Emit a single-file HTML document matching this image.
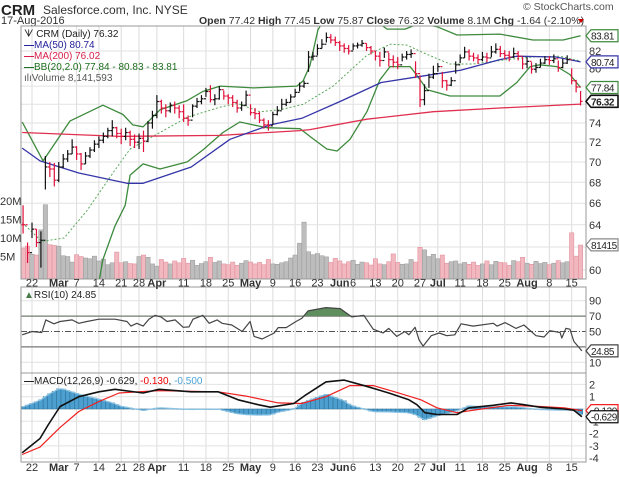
<!DOCTYPE html>
<html><head><meta charset="utf-8">
<style>
html,body{margin:0;padding:0;background:#fff;}
svg{display:block;font-family:"Liberation Sans",sans-serif;}
</style></head>
<body>
<svg id="chart" width="619" height="477" viewBox="0 0 619 477" xmlns="http://www.w3.org/2000/svg">
  <defs>
    <clipPath id="clipMain"><rect x="21" y="26" width="565" height="253"/></clipPath>
    <clipPath id="clipRsi"><rect x="21" y="287" width="565" height="86"/></clipPath>
    <clipPath id="clipMacd"><rect x="21" y="373" width="565" height="89"/></clipPath>
    <clipPath id="clipAbove70"><rect x="21" y="287" width="565" height="29.4"/></clipPath>
  </defs>
  <text x="1" y="15" font-size="15" font-weight="bold" fill="#222">CRM</text>
  <text x="43" y="14" font-size="12" fill="#333">Salesforce.com, Inc. NYSE</text>
  <text x="1" y="24" font-size="11" fill="#333">17-Aug-2016</text>
  <text x="523" y="10" font-size="10.5" fill="#555">© StockCharts.com</text>
  <text x="199" y="24" font-size="10.5" fill="#333"><tspan font-weight="bold">Open</tspan> 77.42 <tspan font-weight="bold">High</tspan> 77.45 <tspan font-weight="bold">Low</tspan> 75.87 <tspan font-weight="bold">Close</tspan> 76.32 <tspan font-weight="bold">Volume</tspan> 8.1M <tspan font-weight="bold">Chg</tspan> -1.64 (-2.10%)</text>
  <polygon points="578,19 584,19 581,23" fill="#c00"/>
  <g id="grid"></g>
  <g id="vol"></g>
  <g id="main" clip-path="url(#clipMain)"></g>
  <g id="rsi"></g>
  <g id="macd"></g>
  <g id="frames"></g>
  <g id="labels"></g>
  <g id="legend">
    <text x="24" y="37" font-size="10" fill="#222">ᗐ CRM (Daily) 76.32</text>
    <text x="24" y="48" font-size="10" fill="#22229a"><tspan font-weight="bold">—</tspan>MA(50) 80.74</text>
    <text x="24" y="59" font-size="10" fill="#d81e4a"><tspan font-weight="bold">—</tspan>MA(200) 76.02</text>
    <text x="24" y="70" font-size="10" fill="#1d6e1d"><tspan font-weight="bold">—</tspan>BB(20,2.0) 77.84 - 80.83 - 83.81</text>
    <text x="24" y="81" font-size="10" fill="#555">ılıVolume 8,141,593</text>
    <text x="24" y="298" font-size="10" fill="#222"><tspan fill="#4a7a4a">▲</tspan>RSI(10) 24.85</text>
    <text x="24" y="384" font-size="10" fill="#222"><tspan font-weight="bold">—</tspan>MACD(12,26,9) -0.629, <tspan fill="#e00">-0.130</tspan>, <tspan fill="#4aa3d6">-0.500</tspan></text>
  </g>
</svg>
<script>
// ---- data ----
const closes = [64.0,61.5,63.6,62.4,62.6,69.5,69.3,68.2,69.5,70.3,70.8,71.5,70.8,69.8,70.6,71.2,71.8,72.2,72.6,73.2,73.5,72.9,72.6,73.0,72.3,72.0,72.4,72.1,74.0,74.8,76.3,75.6,75.3,75.9,75.6,75.2,74.5,74.3,75.8,76.3,76.6,77.4,76.5,76.6,77.6,76.9,76.7,76.2,75.6,75.9,77.0,75.1,75.0,74.3,73.8,73.7,74.9,75.3,76.0,76.2,76.8,77.3,78.0,78.3,81.3,81.4,82.3,82.8,83.6,83.3,83.0,82.6,82.3,82.0,82.6,82.7,82.9,82.4,82.0,81.4,80.9,81.9,81.0,80.7,80.4,81.3,81.6,81.7,79.4,76.5,77.5,79.0,79.4,80.2,78.6,78.1,78.6,80.4,81.2,81.9,81.4,81.2,81.0,81.3,81.2,81.9,82.2,81.7,81.5,81.3,81.7,81.4,80.5,80.8,79.9,80.1,80.6,81.0,80.9,81.1,80.1,80.6,81.0,78.6,77.9,76.32];
const highs = [65.8,62.4,64.2,63.6,63.4,70.6,70.0,69.9,70.0,70.8,71.2,72.3,71.6,70.9,71.0,71.5,72.2,72.6,73.0,73.5,74.3,73.6,73.4,73.5,73.2,72.8,72.9,73.2,74.2,75.3,77.0,76.5,76.0,76.2,76.3,75.9,76.0,74.8,76.0,76.7,77.0,77.8,78.1,77.1,78.0,77.5,77.1,77.0,76.5,76.3,77.5,76.0,75.6,75.2,74.5,74.3,75.2,75.8,76.6,76.6,77.1,77.7,78.4,78.6,82.0,81.9,82.8,83.4,84.2,84.0,83.7,83.2,82.9,82.7,82.9,83.0,83.3,82.9,82.6,82.0,81.9,82.4,81.8,81.5,81.3,81.7,82.0,82.2,80.8,79.2,78.2,79.4,80.3,80.6,79.6,78.7,79.0,80.8,81.6,82.5,82.2,81.8,81.6,81.9,81.8,82.6,82.9,82.6,82.1,82.0,82.4,82.0,81.3,81.3,80.7,80.6,81.1,81.4,81.4,81.6,80.9,81.1,81.5,80.0,78.7,77.45];
const lows = [63.2,60.6,62.8,62.0,60.2,67.3,68.5,67.6,68.0,69.4,70.0,70.8,70.2,69.2,69.8,70.4,71.0,71.4,71.9,72.4,72.6,72.4,71.8,72.2,71.6,71.4,71.3,71.0,72.0,73.4,74.5,75.0,74.6,75.1,75.0,74.5,74.1,73.7,74.6,75.6,76.0,76.8,76.2,75.9,76.5,76.5,76.0,75.7,75.1,75.3,75.8,74.8,74.4,74.0,73.4,73.2,73.8,74.8,75.4,75.8,76.2,76.8,77.4,77.8,79.6,80.9,81.5,82.3,83.0,82.9,82.6,82.0,81.8,81.6,82.1,82.3,82.5,82.0,81.6,80.9,80.2,81.2,80.2,80.1,79.9,80.8,81.0,81.2,78.9,75.7,75.9,77.8,78.8,79.6,77.8,77.5,78.0,79.4,80.6,81.2,80.9,80.8,80.5,80.8,80.7,81.3,81.7,81.3,81.0,80.8,81.2,80.9,79.9,80.0,79.4,79.5,80.1,80.5,80.4,80.6,79.6,80.0,80.5,78.2,77.3,75.87];
const volumesM = [7.3,7.8,5.6,5.4,12.2,19.0,8.2,8.0,7.8,5.2,5.0,3.5,5.5,5.0,4.6,4.4,5.1,3.8,4.3,2.8,3.3,6.2,3.3,3.6,3.1,3.0,5.0,5.4,4.8,3.0,2.4,
 4.2,3.5,3.0,3.8,3.3,4.5,3.2,4.0,2.6,3.1,3.6,4.8,3.4,3.8,3.0,2.8,3.5,2.6,3.2,3.9,
 3.5,3.0,3.4,2.8,4.2,3.0,2.9,3.3,3.6,4.6,5.4,8.6,14.3,6.3,5.5,5.8,5.2,4.9,3.4,4.5,
 3.8,3.0,3.6,4.0,2.9,3.5,3.3,2.7,4.4,3.0,2.8,3.6,5.7,3.4,2.9,3.0,4.2,3.5,7.5,6.8,
 5.0,5.6,4.4,5.4,3.2,3.6,3.8,3.0,3.4,2.9,3.5,2.6,3.0,3.8,2.8,3.7,3.4,3.3,2.6,3.9,
 3.6,4.8,3.2,2.9,3.7,3.1,3.4,2.8,3.2,3.9,3.3,3.6,11.4,5.1,8.1];
const firstIdx = -2; // first bar = Feb 18 (index 0 = Feb 22)

const ma50Idx = [-2.2,1.8,10.5,21.3,24.9,35.7,44.4,53.4,60.5,69.5,78.3,87.2,96.2,104.9,108.7,117.5,123];
const ma50Val = [71.4,70.1,68.9,67.9,67.9,69.5,72.3,73.8,74.5,76.4,78.4,79.1,79.8,81.0,81.4,81.3,80.74];
const ma200Idx = [-2.2,19.7,42.2,60.1,62.3,75.1,90.0,104.9,123];
const ma200Val = [73.0,72.6,72.7,73.2,73.3,74.4,75.2,75.6,76.02];
const bbUpIdx = [-2.2,2.5,8.5,15.9,20.4,22.6,24.9,28.7,34.8,38.3,42.2,49.6,59.4,60.8,62.3,64.1,66.8,70.0,74.9,79.6,83.6,87.0,90.8,95.3,104.9,112.3,119.1,123];
const bbUpVal = [74.1,70.1,74.2,75.9,74.9,73.8,73.6,75.4,76.4,77.4,78.0,77.8,78.0,78.6,80.3,84.5,87.0,88.0,86.5,84.6,84.6,85.3,84.9,83.9,84.0,83.3,83.3,83.81];
const bbMidIdx = [-2.2,2.2,7.2,12.3,18.6,22.0,27.1,34.8,42.2,46.0,51.1,55.6,60.8,67.5,75.1,80.3,84.1,87.7,93.7,98.9,106.5,112.3,118.4,123];
const bbMidVal = [64.2,62.5,62.8,65.3,69.2,71.3,72.6,74.6,75.7,76.1,75.2,75.4,76.0,78.0,81.5,82.8,82.7,81.8,80.5,80.5,81.0,81.3,81.4,80.83];
const bbLoIdx = [-2.2,10.5,15.0,15.9,18.6,20.9,22.0,24.9,28.7,34.8,38.3,42.8,46.6,49.6,52.7,60.1,62.3,66.1,68.4,71.3,75.1,78.0,80.3,84.8,86.3,88.6,93.7,104.9,108.7,111.7,113.9,117.7,120.6,123];
const bbLoVal = [55.0,55.0,59.0,60.9,63.9,65.8,68.7,69.8,69.3,70.0,71.2,73.0,74.1,73.8,73.5,73.4,72.6,71.3,71.1,72.3,75.2,78.7,80.2,80.2,79.2,77.6,76.9,76.9,78.4,80.2,80.4,80.2,79.3,77.84];

const rsiIdx = [-2.2,0,2.2,3.1,4.9,6.3,9,10.5,12.3,15,18.6,21.3,22.2,23.5,24.9,26.2,27.6,28.9,30.3,32.1,33.9,35.2,36.1,38.3,39.7,41.5,42.6,44.8,47.1,48.9,49.8,51.6,54.3,55.2,57,59.2,60.5,61.9,65.9,69.1,71.7,74.4,76.5,78.7,80,81.8,83.6,84.5,85.9,86.8,87.7,89.5,91.3,93,94.8,96.2,98.9,103.4,104.3,106.1,108.5,110.3,113,114.8,116.1,118.4,118.8,119.7,120.6,121.5,123.3];
const rsiVal = [45.7,50,48.7,65,60,63,65,60.6,63,66,66,63,57,60.6,57,66,71,69,63,65,55.5,56,66,71,60.6,65,60.6,58.5,50,63,43.6,40.2,48,55,55,63,67,76.8,81,79.8,69,71,53,48,54,43.6,50,45.7,55.5,39,31,44.5,48,44.5,45.7,60,57,60.6,57,61.5,54,58.5,44.5,42.8,51,48.7,41.5,54,53,37,24.85];

const macdIdx = [-2.2,1.8,3.6,6.3,10.5,15,18.6,24.9,28.5,32.1,35.7,41.7,46.2,50.7,53.4,58.7,61.4,65.9,70,74.9,80,84.5,86.3,88.1,90.8,95.3,98,103.4,107.4,110.3,113.9,119.3,121.5,123.3];
const macdVal = [-3.55,-2.4,-1.3,0.2,1.0,1.4,1.6,1.3,1.6,1.5,1.4,1.4,0.75,0.35,0.15,0.45,1.15,2.2,2.35,1.85,1.3,0.75,0.35,-0.3,-0.45,-0.45,0.1,0.3,0.5,0.35,0.15,0,-0.1,-0.629];
const sigIdx = [-2.2,1.8,6.3,10.5,15,19.5,28.5,41.7,48,55.2,60.5,65.9,71.3,76.5,81.8,87.2,90.8,95.3,99.8,107,113.9,119.3,123.3];
const sigVal = [-3.7,-3.1,-1.5,-0.2,0.6,1.3,1.5,1.4,1.05,0.5,0.45,1.0,1.9,1.9,1.35,0.75,0.1,-0.3,-0.05,0.3,0.2,0.1,-0.13];

const tickIdx = [0,6,10,15,20,24,28,34,39,44,49,54,59,64,69,72,77,82,87,91,96,101,106,111,116,121];
const tickLabels = ["22","Mar","7","14","21","28","Apr","11","18","25","May","9","16","23","Jun","6","13","20","27","Jul","11","18","25","Aug","8","15"];
const priceTicks = [60,62,64,66,68,70,72,74,76,78,80,82];
const priceTickLabels = ["60","62","64","66","68","70","72","74","","","80","82"];
const volTicks = [5,10,15,20];
const rsiTicks = [10,30,50,70,90];
const macdTicks = [2,1,0,-1,-2,-3,-4];

// ---- scales ----
const X = i => 32 + 4.46 * i;
const Yp = p => 270 - 701 * Math.log(p / 60);
const Yv = v => 275 - v * 3.7;
const Yr = r => 331.5 - (r - 50) * 0.77;
const Ym = m => 409 - m * 12.3;
const NS = "http://www.w3.org/2000/svg";
function mk(tag, attrs, parent) {
  const e = document.createElementNS(NS, tag);
  for (const k in attrs) e.setAttribute(k, attrs[k]);
  parent.appendChild(e);
  return e;
}
function interp(xs, ys, x) {
  if (x <= xs[0]) return ys[0];
  for (let k = 1; k < xs.length; k++) if (x <= xs[k]) {
    const t = (x - xs[k-1]) / (xs[k] - xs[k-1]);
    return ys[k-1] + t * (ys[k] - ys[k-1]);
  }
  return ys[ys.length-1];
}
function pts(xs, ys, fy) { return xs.map((v, k) => X(v).toFixed(1) + "," + fy(ys[k]).toFixed(1)).join(" "); }

const grid = document.getElementById("grid");
const vol = document.getElementById("vol");
const main = document.getElementById("main");
const rsi = document.getElementById("rsi");
const macd = document.getElementById("macd");
const frames = document.getElementById("frames");
const labels = document.getElementById("labels");

[[26,253,"price-panel"],[287,86,"rsi-panel"],[373,89,"macd-panel"]].forEach(p => {
  const r = mk("rect", {x:21, y:p[0], width:565, height:p[1], fill:"#fff"}, grid);
  
  
});

tickIdx.forEach((ti, k) => {
  const x = X(ti);
  [[26,279],[287,373],[373,462]].forEach(s => {
    const l = mk("line", {x1:x, x2:x, y1:s[0], y2:s[1], stroke:"#dcdcdc", "stroke-width":1}, grid);
    
    
  });
  const bold = isNaN(+tickLabels[k]);
  [286.5, 471].forEach(yy => {
    const t = mk("text", {x:x, y:yy, "font-size":11, "text-anchor":"middle", fill:"#333", "font-weight": bold ? "bold" : "normal"}, labels);
    t.textContent = tickLabels[k];
    
    
  });
});

priceTicks.forEach((p, k) => {
  const y = Yp(p);
  const l = mk("line", {x1:21, x2:586, y1:y, y2:y, stroke:"#e2e2e2"}, grid);
  
  
  if (priceTickLabels[k]) {
    const t = mk("text", {x:589, y:y + 4, "font-size":11, fill:"#333"}, labels);
    t.textContent = priceTickLabels[k];
    
    
  }
});
volTicks.forEach(v => {
  const t = mk("text", {x:0, y:Yv(v) + 4, "font-size":11, fill:"#333"}, labels);
  t.textContent = v + "M";
  
  
});

volumesM.forEach((v, k) => {
  const i = k + firstIdx;
  const up = k === 0 ? false : closes[k] >= closes[k-1];
  const y = Yv(v);
  const r = mk("rect", {x:X(i) - 2.2, y:y, width:4.4, height:279 - y, fill: up ? "#bdbdbd" : "#f1b8c0", stroke: up ? "#999" : "#e08a98", "stroke-width":0.5}, vol);
  
  
});

function line(parent, xs, ys, fy, color, w, dash) {
  const a = {points: pts(xs, ys, fy), fill:"none", stroke:color, "stroke-width":w, "stroke-linejoin":"round"};
  if (dash) a["stroke-dasharray"] = dash;
  return mk("polyline", a, parent);
}
let e;
e = line(main, bbMidIdx, bbMidVal, Yp, "#5aa85a", 1, "2,2");


e = line(main, bbUpIdx, bbUpVal, Yp, "#3d8a3d", 1.3);


e = line(main, bbLoIdx, bbLoVal, Yp, "#3d8a3d", 1.3);


e = line(main, ma200Idx, ma200Val, Yp, "#e0304f", 1.3);


e = line(main, ma50Idx, ma50Val, Yp, "#3535a8", 1.3);



closes.forEach((c, k) => {
  const i = k + firstIdx;
  const up = k === 0 ? false : c >= closes[k-1];
  const col = up ? "#111" : "#e0103a";
  const x = X(i);
  const g = mk("g", {stroke:col, "stroke-width":1.2}, main);
  
  
  mk("line", {x1:x, x2:x, y1:Yp(highs[k]), y2:Yp(lows[k])}, g);
  mk("line", {x1:x, x2:x + 2, y1:Yp(c), y2:Yp(c)}, g);
  const o = k === 0 ? c : closes[k-1];
  mk("line", {x1:x - 2, x2:x, y1:Yp(o), y2:Yp(o)}, g);
});

[[70,"#777",1.2,null],[30,"#777",1.2,null],[50,"#555",1,"6,2,1,2"]].forEach(s => {
  const l = mk("line", {x1:21, x2:586, y1:Yr(s[0]), y2:Yr(s[0]), stroke:s[1], "stroke-width":s[2]}, rsi);
  if (s[3]) l.setAttribute("stroke-dasharray", s[3]);
  
  
});
[10,90].forEach(r => {
  const l = mk("line", {x1:21, x2:586, y1:Yr(r), y2:Yr(r), stroke:"#e2e2e2"}, grid);
  
  
});
rsiTicks.forEach(r => {
  if (r === 30) return;
  const t = mk("text", {x:589, y:Yr(r) + 4, "font-size":11, fill:"#333"}, labels);
  t.textContent = r;
  
  
});
const rsiPts = pts(rsiIdx, rsiVal, Yr);
const fillPoly = X(rsiIdx[0]) + "," + Yr(70) + " " + rsiPts + " " + X(rsiIdx[rsiIdx.length-1]) + "," + Yr(70);
e = mk("polygon", {points: fillPoly, fill:"#5f8f5f", "clip-path":"url(#clipAbove70)"}, rsi);


e = line(rsi, rsiIdx, rsiVal, Yr, "#444", 1.2);



macdTicks.forEach(m => {
  const l = mk("line", {x1:21, x2:586, y1:Ym(m), y2:Ym(m), stroke:"#e2e2e2"}, grid);
  
  
  if (m === 0) return;
  const t = mk("text", {x:589, y:Ym(m) + 4, "font-size":11, fill:"#333"}, labels);
  t.textContent = m;
  
  
});
const histPts = [];
for (let k = 0; k < closes.length; k++) {
  const i = k + firstIdx;
  const h = interp(macdIdx, macdVal, i) - interp(sigIdx, sigVal, i);
  histPts.push(X(i).toFixed(1) + "," + Ym(h).toFixed(1));
  const y0 = Ym(0), y1 = Ym(h);
  const r = mk("rect", {x:X(i) - 2.2, y:Math.min(y0, y1), width:4.4, height:Math.max(0.5, Math.abs(y1 - y0)), fill:"#4d9fcf", stroke:"#2a6e98", "stroke-width":0.5}, macd);
  
  
}
e = mk("polyline", {points: histPts.join(" "), fill:"none", stroke:"#8cc4e4", "stroke-width":1.2}, macd);


e = line(macd, sigIdx, sigVal, Ym, "#f02020", 1.2);


e = line(macd, macdIdx, macdVal, Ym, "#111", 1.6);



[[26,253],[287,86],[373,89]].forEach(p => {
  const r = mk("rect", {x:21, y:p[0], width:565, height:p[1], fill:"none", stroke:"#999", "stroke-width":1}, frames);
  
  
});

function tag(y, text, color, bold, name) {
  const g = mk("g", {}, labels);
  
  
  mk("polygon", {points:`586,${y} 591,${y-6} 618,${y-6} 618,${y+6} 591,${y+6}`, fill:"#fff", stroke:color, "stroke-width": bold ? 1.6 : 1.2}, g);
  const t = mk("text", {x:591, y:y + 4, "font-size":10, "letter-spacing":"-0.4", fill:"#222", "font-weight": bold ? "bold" : "normal"}, g);
  t.textContent = text;
}
tag(Yp(83.81), "83.81", "#3d8a3d", false, "bb-upper-tag");
tag(Yp(80.74), "80.74", "#3535a8", false, "ma50-tag");
tag(Yp(77.84), "77.84", "#3d8a3d", false, "bb-lower-tag");
tag(Yp(76.32), "76.32", "#111", true, "last-price-tag");
tag(Yv(8.14), "81415", "#888", false, "volume-tag");
tag(Yr(24.85), "24.85", "#444", false, "rsi-value-tag");
tag(Ym(-0.13), "-0.130", "#f02020", false, "macd-signal-tag");
tag(Ym(-0.629), "-0.629", "#111", false, "macd-value-tag");
</script>
</body></html>
